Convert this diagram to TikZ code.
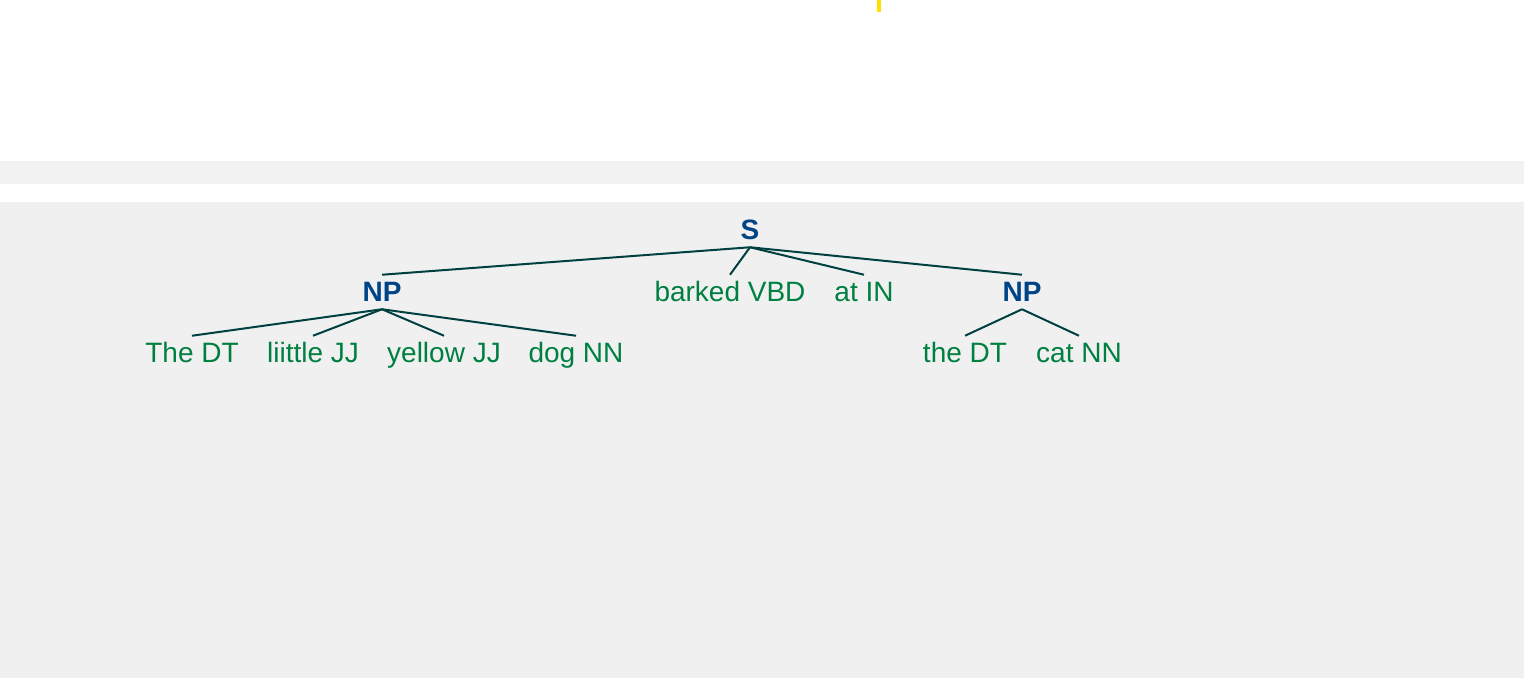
\documentclass[tikz,border=0pt]{standalone}
\usepackage{fontspec}
\setmainfont{Liberation Sans}
\definecolor{tagblue}{RGB}{0,68,136}
\definecolor{leafgreen}{RGB}{0,128,64}
\definecolor{edgeteal}{RGB}{0,64,64}
\definecolor{bandgray}{RGB}{242,242,242}
\definecolor{panelgray}{RGB}{240,240,240}
\definecolor{markyellow}{RGB}{255,224,0}
\tikzset{
  phrase/.style={anchor=base,inner sep=0pt,text height=19.5pt,text depth=6pt,font=\fontsize{21}{24}\selectfont\bfseries,text=tagblue},
  word/.style={anchor=base,inner sep=0pt,text height=19.5pt,text depth=6pt,font=\fontsize{21}{24}\selectfont,text=leafgreen},
  branch/.style={draw=edgeteal,line width=1.5pt}
}
\begin{document}
\begin{tikzpicture}[x=0.75pt,y=0.75pt,yscale=-1]
\useasboundingbox (0,0) rectangle (1524,678);

%Shape: Background
\fill [white] (0,0) rectangle (1524,678);
%Shape: Band
\fill [bandgray] (0,161) rectangle (1524,184);
%Shape: Panel
\fill [panelgray] (0,202) rectangle (1524,678);
%Shape: Mark
\fill [markyellow] (877,0) rectangle (881,12);

% Phrase Nodes
\node [phrase] (s) at (750,239) {S};
\node [phrase] (npa) at (382,301) {NP};
\node [phrase] (npb) at (1022,301) {NP};
% Word Nodes
\node [word] (barked) at (730,301) {barked VBD};
\node [word] (at) at (864,301) {at IN};
\node [word] (the) at (192,362) {The DT};
\node [word] (little) at (313,362) {liittle JJ};
\node [word] (yellow) at (444,362) {yellow JJ};
\node [word] (dog) at (576,362) {dog NN};
\node [word] (thesec) at (965,362) {the DT};
\node [word] (cat) at (1079,362) {cat NN};

% Branches
\draw [branch] (s.south) -- (npa.north);
\draw [branch] (s.south) -- (barked.north);
\draw [branch] (s.south) -- (at.north);
\draw [branch] (s.south) -- (npb.north);
\draw [branch] (npa.south) -- (the.north);
\draw [branch] (npa.south) -- (little.north);
\draw [branch] (npa.south) -- (yellow.north);
\draw [branch] (npa.south) -- (dog.north);
\draw [branch] (npb.south) -- (thesec.north);
\draw [branch] (npb.south) -- (cat.north);

\end{tikzpicture}
\end{document}
